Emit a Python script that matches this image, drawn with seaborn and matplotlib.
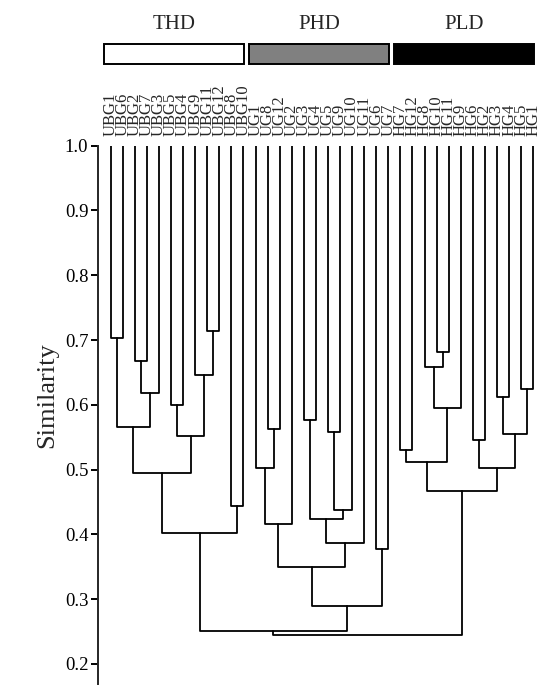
"""
相似性聚类树状图：THD / PHD / PLD 三组样本
"""

import os
import numpy as np
import pandas as pd
import matplotlib
matplotlib.use('Agg')
import matplotlib.pyplot as plt
from matplotlib import font_manager as fm
import seaborn as sns

leaf_labels = ['UBG1', 'UBG6', 'UBG2', 'UBG7', 'UBG3', 'UBG5', 'UBG4', 'UBG9',
               'UBG11', 'UBG12', 'UBG8', 'UBG10',
               'UG1', 'UG8', 'UG12', 'UG2', 'UG3', 'UG4', 'UG5', 'UG9',
               'UG10', 'UG11', 'UG6', 'UG7',
               'HG7', 'HG12', 'HG8', 'HG10', 'HG11', 'HG9', 'HG6', 'HG2',
               'HG3', 'HG4', 'HG5', 'HG1']

# 合并顺序：0-35 为叶节点，36 起依次为新生成的节点
merge_left = [0, 2, 37, 36, 5, 8, 7, 40, 39, 10, 44,
              13, 12, 48, 16, 18, 51, 50, 53, 49, 22, 55, 46,
              24, 27, 26, 61, 59, 32, 34, 64, 30, 67, 63, 58]
merge_right = [1, 3, 4, 38, 6, 9, 41, 42, 43, 11, 45,
               14, 47, 15, 17, 19, 20, 52, 21, 54, 23, 56, 57,
               25, 28, 60, 29, 62, 33, 35, 65, 31, 66, 68, 69]
merge_sim = [0.703, 0.668, 0.619, 0.566, 0.600, 0.714, 0.646, 0.552,
             0.495, 0.444, 0.402,
             0.563, 0.502, 0.416, 0.577, 0.558, 0.437, 0.424, 0.386,
             0.349, 0.377, 0.289, 0.251,
             0.530, 0.682, 0.659, 0.595, 0.512, 0.612, 0.625, 0.555,
             0.546, 0.502, 0.467, 0.244]

group_names = ['THD', 'PHD', 'PLD']
group_sizes = [12, 12, 12]
group_colors = ['white', 'gray', 'black']

# 字体缓存里可能没有 Liberation Serif，手动注册一下
for path in fm.findSystemFonts():
    base = os.path.basename(path).lower()
    if 'liberationserif' in base.replace('-', '').replace(' ', ''):
        try:
            fm.fontManager.addfont(path)
        except Exception:
            pass

sns.set_style('ticks')
plt.rcParams['font.family'] = ['Liberation Serif', 'Times New Roman',
                               'DejaVu Serif']

# 计算树状图连线坐标（节点横坐标取两个子节点的中点）
n = len(leaf_labels)
pos_x = list(range(n))
pos_y = [1.0] * n
rows = []
for k, (a, b, h) in enumerate(zip(merge_left, merge_right, merge_sim)):
    xa, ya = pos_x[a], pos_y[a]
    xb, yb = pos_x[b], pos_y[b]
    for px, py in [(xa, ya), (xa, h), (xb, h), (xb, yb)]:
        rows.append({'link': k, 'x': px, 'y': py})
    pos_x.append((xa + xb) / 2)
    pos_y.append(h)
links = pd.DataFrame(rows)

W, H = 552, 696
fig = plt.figure(figsize=(W / 100, H / 100), dpi=100)
ax = fig.add_axes([98 / W, 12 / H, 447 / W, 538.3 / H])

sns.lineplot(data=links, x='x', y='y', units='link', estimator=None,
             sort=False, color='black', linewidth=1.3, ax=ax)

xlim = (-1.05, 35.98)
ax.set_xlim(*xlim)
ax.set_ylim(0.169, 1.0)
sns.despine(ax=ax, top=True, right=True, bottom=True)
ax.spines['left'].set_linewidth(1.4)

ax.set_yticks(np.arange(0.2, 1.01, 0.1))
ax.set_yticklabels([f'{v:.1f}' for v in np.arange(0.2, 1.01, 0.1)])
ax.tick_params(axis='y', direction='out', length=5, width=1.4,
               pad=2, labelsize=13.5, colors='black')

ax.xaxis.tick_top()
ax.set_xticks(range(n))
ax.set_xticklabels(leaf_labels)
ax.tick_params(axis='x', length=0, pad=7, labelrotation=90, labelsize=12)
ax.set_xlabel('')
ax.set_ylabel('Similarity', fontsize=19)
ax.yaxis.set_label_coords(-0.09, 0.537)

# 顶部分组色条
bar_ax = fig.add_axes([98 / W, 1 - 64.3 / H, 447 / W, 20 / H])
bar_ax.set_xlim(*xlim)
bar_ax.set_ylim(0, 1)
bar_ax.axis('off')
start = 0
for name, size, color in zip(group_names, group_sizes, group_colors):
    left = start - 0.55
    right = start + size - 1 + 0.05
    bar_ax.bar((left + right) / 2, 1, width=right - left, bottom=0,
               color=color, edgecolor='black', linewidth=1.4, clip_on=False)
    bar_ax.annotate(name, xy=((left + right) / 2, 1), xytext=(0, 14),
                    textcoords='offset points', ha='center', va='center',
                    fontsize=15)
    start += size

fig.savefig('out.png', dpi=100)
